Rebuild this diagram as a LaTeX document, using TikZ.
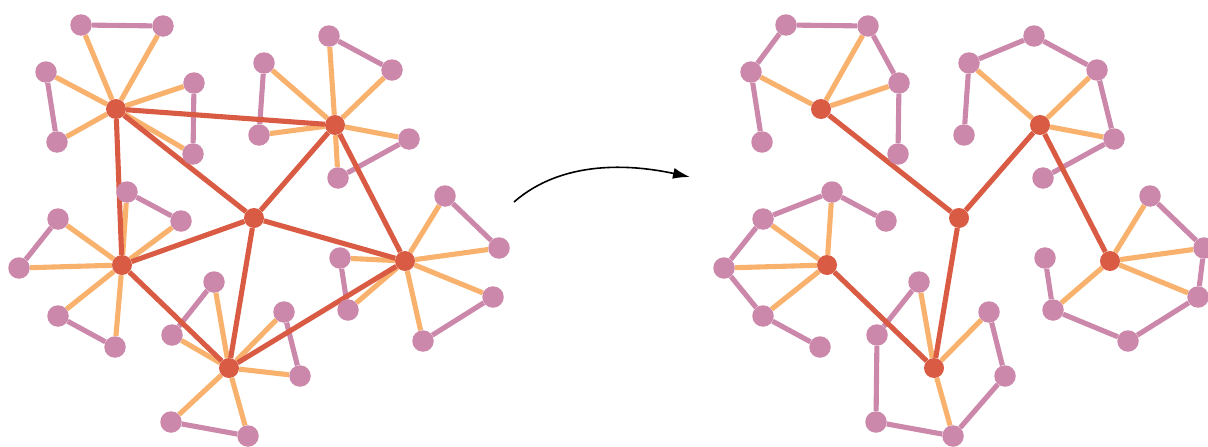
\documentclass[tikz,border=0pt]{standalone}
\usetikzlibrary{arrows.meta}
\definecolor{hubred}{RGB}{217,91,67}
\definecolor{spokeorange}{RGB}{249,178,110}
\definecolor{leafpink}{RGB}{204,136,170}
\pgfdeclarelayer{edges}
\pgfsetlayers{edges,main}

% places all vertices of one copy of the graph, names prefixed by #1
\newcommand\placevertices[1]{%
  \foreach \n/\px/\py in {A/116/109,B/335/125,C/254/218,D/122/265,E/405/261,F/229/368}
    \node[hub] (#1\n) at (\px,\py) {};
  \foreach \n/\px/\py in {a1/81/25,a2/163/26,a3/46/72,a4/57/142,a5/194/83,a6/193/154,
      b1/329/36,b2/392/70,b3/264/63,b4/259/135,b5/409/139,b6/338/178,
      d1/127/192,d2/181/221,d3/58/219,d4/19/268,d5/58/316,d6/115/347,
      e1/445/196,e2/499/248,e3/340/258,e4/348/310,e5/493/297,e6/423/341,
      f1/214/282,f2/172/335,f3/171/422,f4/248/436,f5/284/312,f6/300/376}
    \node[leaf] (#1\n) at (\px,\py) {};
}

\begin{document}
\begin{tikzpicture}[x=1pt,y=-1pt,
  hub/.style={circle,fill=hubred,inner sep=0pt,minimum size=20pt},
  leaf/.style={circle,fill=leafpink,inner sep=0pt,minimum size=21.5pt},
  redge/.style={draw=hubred,line width=5.1pt},
  oedge/.style={draw=spokeorange,line width=5.1pt},
  pedge/.style={draw=leafpink,line width=5.1pt}]
\useasboundingbox (0,0) rectangle (1208,447);

% full graph
\placevertices{L}
% spanning structure
\begin{scope}[xshift=705pt]
\placevertices{R}
\end{scope}

\begin{pgfonlayer}{edges}
  % left graph
  \foreach \u/\v in {a1/a2,a3/a4,a5/a6,b1/b2,b3/b4,b5/b6,d1/d2,d3/d4,d5/d6,
      e1/e2,e3/e4,e5/e6,f1/f2,f3/f4,f5/f6}
    \draw[pedge] (L\u) -- (L\v);
  \foreach \h/\H in {a/A,b/B,d/D,e/E,f/F}
    \foreach \k in {1,...,6}
      \draw[oedge] (L\H) -- (L\h\k);
  \foreach \u/\v in {A/B,A/C,A/D,B/C,B/E,C/D,C/E,C/F,D/F,E/F}
    \draw[redge] (L\u) -- (L\v);

  % right graph
  \foreach \u/\v in {a1/a2,a1/a3,a3/a4,a2/a5,a5/a6,b1/b2,b1/b3,b3/b4,b2/b5,b5/b6,
      d1/d2,d1/d3,d3/d4,d4/d5,d5/d6,e1/e2,e2/e5,e3/e4,e4/e6,e6/e5,
      f1/f2,f2/f3,f3/f4,f4/f6,f5/f6}
    \draw[pedge] (R\u) -- (R\v);
  \foreach \u/\v in {A/a2,A/a3,A/a5,B/b2,B/b3,B/b5,D/d1,D/d3,D/d4,D/d5,
      E/e1,E/e2,E/e4,E/e5,F/f1,F/f4,F/f5}
    \draw[oedge] (R\u) -- (R\v);
  \foreach \u/\v in {A/C,B/C,B/E,C/F,D/F}
    \draw[redge] (R\u) -- (R\v);
\end{pgfonlayer}

% transformation arrow
\coordinate (arrowfrom) at (514,202);
\coordinate (arrowto) at (690,177);
\draw[line width=1.6pt,-{Latex[length=17pt,width=11pt]}]
  (arrowfrom) .. controls (562,160) and (630,164) .. (arrowto);
\end{tikzpicture}
\end{document}
